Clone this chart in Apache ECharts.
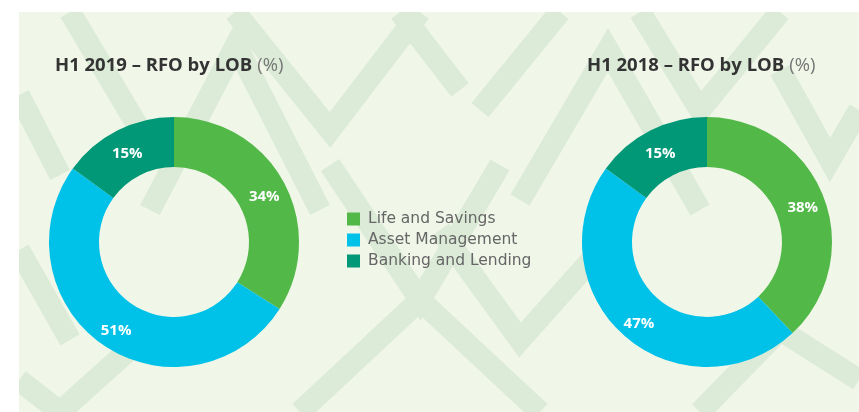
<!DOCTYPE html>
<html>
<head>
<meta charset="utf-8">
<script src="https://cdn.jsdelivr.net/npm/echarts@6/dist/echarts.min.js"></script>
<style>
  html, body { margin: 0; padding: 0; background: #fff; }
  #chart { width: 859px; height: 412px; }
</style>
</head>
<body>
<div id="chart"></div>
<script>
  const lobs = ['Life and Savings', 'Asset Management', 'Banking and Lending'];
  const colors = ['#52b848', '#00c1e8', '#009877'];
  const h1_2019 = [34, 51, 15];
  const h1_2018 = [38, 47, 15];
  const titles = ['H1 2019 – RFO by LOB', 'H1 2018 – RFO by LOB'];

  const myChart = echarts.init(document.getElementById('chart'));

  // background pattern, rough copy of the stripes
  const band = '#dcebd8';
  const paths = [
    [[19, 95], [60, 175]],
    [[19, 250], [70, 340]],
    [[70, 12], [140, 130]],
    [[150, 210], [236, 45], [320, 210]],
    [[235, 12], [330, 130], [420, 12]],
    [[330, 165], [420, 300], [500, 165]],
    [[400, 12], [460, 90]],
    [[480, 110], [560, 12]],
    [[520, 200], [608, 50], [700, 210]],
    [[640, 12], [700, 110], [780, 12]],
    [[780, 70], [830, 160], [859, 110]],
    [[300, 412], [420, 300], [540, 412]],
    [[60, 412], [140, 340]],
    [[700, 412], [780, 330], [859, 380]],
    [[19, 380], [60, 412]],
    [[440, 230], [520, 340], [600, 250]]
  ];

  myChart.setOption({
    backgroundColor: '#fff',
    graphic: [
      {
        type: 'rect', z: -10, silent: true,
        shape: { x: 19, y: 12, width: 840, height: 400 },
        style: { fill: '#f0f6e8' }
      },
      ...paths.map(p => ({
        type: 'polyline', z: -9, silent: true,
        shape: { points: p },
        style: { stroke: band, lineWidth: 22, fill: null, lineJoin: 'miter' }
      })),
      {
        type: 'rect', z: -8, silent: true,
        shape: { x: 0, y: 0, width: 19, height: 412 },
        style: { fill: '#fff' }
      },
      {
        type: 'rect', z: -8, silent: true,
        shape: { x: 0, y: 0, width: 859, height: 12 },
        style: { fill: '#fff' }
      }
    ],
    title: titles.map((t, i) => ({
      text: '{b|' + t + '} {n|(%)}',
      left: i === 0 ? 50 : 582,
      top: 51,
      textStyle: {
        rich: {
          b: { fontFamily: 'Open Sans', fontSize: 18.5, fontWeight: 'bold', color: '#333' },
          n: { fontFamily: 'Open Sans', fontSize: 18.5, fontWeight: 'normal', color: '#777' }
        }
      }
    })),
    legend: {
      data: lobs,
      orient: 'vertical',
      left: 342,
      top: 206,
      itemWidth: 13,
      itemHeight: 13,
      itemGap: 5,
      icon: 'rect',
      textStyle: { fontFamily: 'DejaVu Sans', fontSize: 15.5, color: '#666', padding: [0, 0, 0, 3] }
    },
    color: colors,
    series: [h1_2019, h1_2018].map((vals, i) => ({
      type: 'pie',
      center: [i === 0 ? 174 : 707, 242],
      radius: [75, 125],
      startAngle: 90,
      clockwise: true,
      silent: true,
      label: {
        position: 'inside',
        formatter: '{c}%',
        color: '#fff',
        fontFamily: 'Open Sans',
        fontWeight: 'bold',
        fontSize: 15,
        offset: [0, 4]
      },
      labelLine: { show: false },
      itemStyle: { borderWidth: 0 },
      data: lobs.map((name, j) => ({ name, value: vals[j] }))
    }))
  });
</script>
</body>
</html>
